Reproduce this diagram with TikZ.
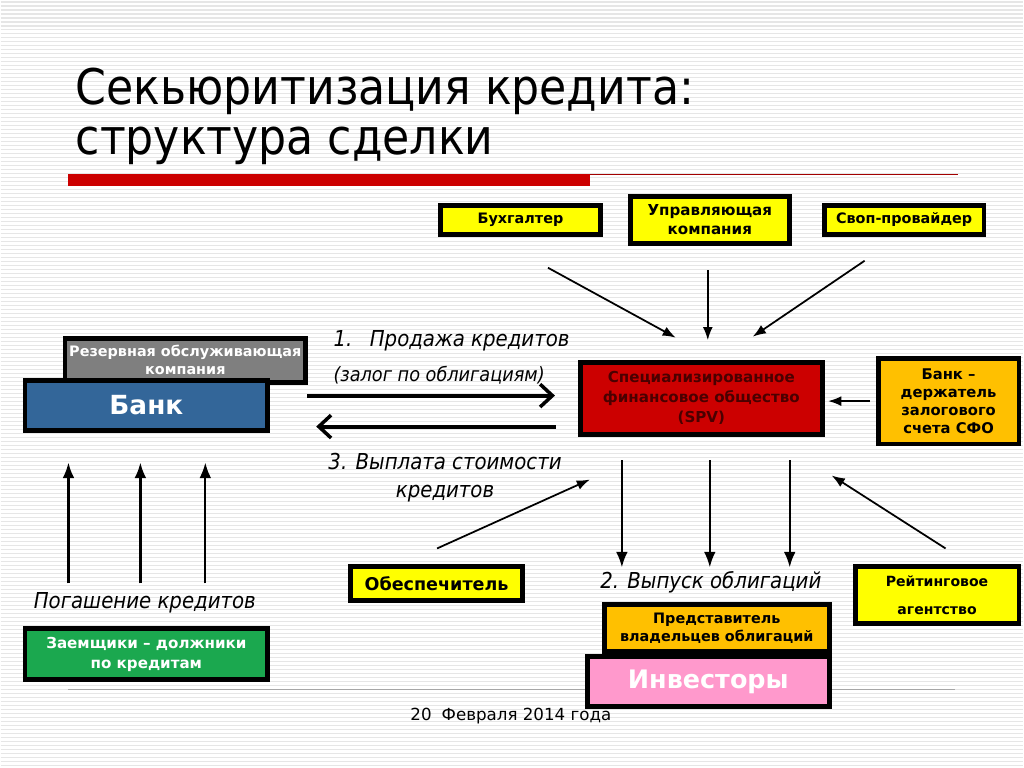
\documentclass[tikz,border=0pt]{standalone}
\usepackage{fontspec}
\setmainfont{DejaVu Sans}
\newfontfamily\narrowfont{DejaVu Sans Condensed}
\usepackage{tikz}
\usetikzlibrary{arrows.meta,positioning}

\definecolor{stripegray}{HTML}{E6E6E6}
\definecolor{boxyellow}{HTML}{FFFF00}
\definecolor{boxorange}{HTML}{FFC000}
\definecolor{spvred}{HTML}{CC0000}
\definecolor{spvtext}{HTML}{4A0000}
\definecolor{bankblue}{HTML}{336699}
\definecolor{rezgray}{HTML}{7F7F7F}
\definecolor{zaemgreen}{HTML}{1BA84F}
\definecolor{invpink}{HTML}{FF99CC}

\begin{document}
\begin{tikzpicture}[
	x=0.02cm, y=-0.02cm,
	>=Latex,
	box/.style={draw, line width=2.8pt, align=center, inner sep=1pt, font=\bfseries\fontsize{8.2}{10.2}\selectfont},
	yelbox/.style={box, fill=boxyellow},
	orbox/.style={box, fill=boxorange},
	lbl/.style={inner sep=0pt, font=\narrowfont\itshape\fontsize{12.5}{16}\selectfont},
	flow/.style={->, line width=1pt},
	bigflow/.style={-{Straight Barb[length=7pt,width=13pt,line width=2pt]}, line width=2.3pt}
]

% background
\fill[white] (0,0) rectangle (1024,768);
\foreach \y in {2,6,...,766}
	\draw[stripegray, line width=0.6pt] (0,\y) -- (1024,\y);
\useasboundingbox (0,0) rectangle (1024,768);

% title
\node[anchor=base west, inner sep=0pt, font=\narrowfont\fontsize{28}{34}\selectfont] (title1) at (75,105) {Секьюритизация кредита:};
\node[anchor=base west, inner sep=0pt, font=\narrowfont\fontsize{28}{34}\selectfont] (title2) at (75,155) {структура сделки};
\fill[spvred] (68,174) rectangle (590,186);
\draw[spvred!80!black, line width=0.6pt] (590,175) -- (958,175);
\draw[gray!70, line width=0.8pt] (68,690) -- (955,690);

% upper participants
\node[yelbox, minimum width=3.2cm, minimum height=0.58cm] (buh) at (520.5,220) {Бухгалтер};
\node[yelbox, minimum width=3.18cm, minimum height=0.94cm, font=\bfseries\fontsize{8.6}{10.8}\selectfont] (upr) at (710,220) {Управляющая\\компания};
\node[yelbox, minimum width=3.2cm, minimum height=0.58cm] (swap) at (904.5,220) {Своп-провайдер};

\node[box, fill=spvred, text=spvtext, minimum width=4.84cm, minimum height=1.44cm, font=\bfseries\fontsize{8.6}{11.3}\selectfont] (spv) at (701.5,398.5) {Специализированное\\финансовое общество\\(SPV)};
\node[orbox, minimum width=2.82cm, minimum height=1.72cm, font=\bfseries\fontsize{8.4}{10.3}\selectfont] (zalbank) at (949,401.5) {Банк --\\держатель\\залогового\\счета СФО};

% left side
\node[box, fill=rezgray, text=white, minimum width=4.82cm, minimum height=0.88cm] (rezerv) at (185,360.5) {Резервная обслуживающая\\компания};
\node[box, fill=bankblue, text=white, minimum width=4.86cm, minimum height=1cm, font=\bfseries\fontsize{15}{18}\selectfont] (bank) at (146,405.5) {Банк};
\node[box, fill=zaemgreen, text=white, minimum width=4.86cm, minimum height=1.02cm, font=\bfseries\fontsize{8.6}{11.3}\selectfont] (zaem) at (146,655) {Заемщики -- должники\\по кредитам};

% lower participants
\node[yelbox, minimum width=3.44cm, minimum height=0.68cm, font=\bfseries\fontsize{10}{12}\selectfont] (obesp) at (436.5,584.5) {Обеспечитель};
\node[yelbox, minimum width=3.28cm, minimum height=1.14cm, font=\bfseries\fontsize{8}{16}\selectfont] (rating) at (937.5,596) {Рейтинговое\\агентство};
\node[orbox, minimum width=4.5cm, minimum height=0.94cm] (predst) at (717,629) {Представитель\\владельцев облигаций};
\node[box, fill=invpink, text=white, minimum width=4.84cm, minimum height=1cm, font=\bfseries\fontsize{14.5}{17}\selectfont] (invest) at (708.5,682.5) {Инвесторы};

% labels
\node[lbl, anchor=base west] (salelbl) at (333,347) {1.\hspace{0.8em}Продажа кредитов};
\node[lbl, anchor=base west, font=\narrowfont\itshape\fontsize{11.2}{14}\selectfont] (pledgelbl) at (333,382) {(залог по облигациям)};
\node[lbl, align=center] (paylbl) at (445,478) {3. Выплата стоимости\\кредитов};
\node[lbl, anchor=base west] (repaylbl) at (33,609) {Погашение кредитов};
\node[lbl, anchor=base west] (issuelbl) at (600,589) {2. Выпуск облигаций};
\node[anchor=base west, inner sep=0pt, font=\fontsize{9.5}{11}\selectfont] (date) at (410,721) {20\hspace{0.6em}Февраля 2014 года};

% arrow ends
\coordinate (buh-s) at (548,268);
\coordinate (buh-e) at (676,338);
\coordinate (swap-s) at (865,261);
\coordinate (swap-e) at (753,337);
\coordinate (sale-s) at (307,396);
\coordinate (sale-e) at (555,396);
\coordinate (pay-s) at (556,427);
\coordinate (pay-e) at (316,427);
\coordinate (obesp-s) at (437,549);
\coordinate (obesp-e) at (590,480);
\coordinate (rating-s) at (946,549);
\coordinate (rating-e) at (832,476);

\draw[flow] (buh-s) -- (buh-e);
\draw[flow, shorten <=0.49cm, shorten >=0.39cm] ([xshift=-0.04cm]upr.south) -- ([xshift=-0.04cm]upr.south |- spv.north);
\draw[flow] (swap-s) -- (swap-e);
\draw[flow, shorten <=0.12cm, shorten >=0.07cm] (zalbank) -- (zalbank -| spv.east);

\draw[bigflow] (sale-s) -- (sale-e);
\draw[bigflow] (pay-s) -- (pay-e);

\foreach \x in {68,140,205}
	\draw[flow, line width=1.3pt, shorten <=0.86cm, shorten >=0.6cm] (\x,0 |- zaem.north) -- (\x,0 |- bank.south);
\foreach \x in {622,710,790}
	\draw[flow, line width=1.3pt, shorten <=0.48cm, shorten >=0.7cm] (\x,0 |- spv.south) -- (\x,0 |- predst.north);

\draw[flow] (obesp-s) -- (obesp-e);
\draw[flow] (rating-s) -- (rating-e);

\end{tikzpicture}
\end{document}
